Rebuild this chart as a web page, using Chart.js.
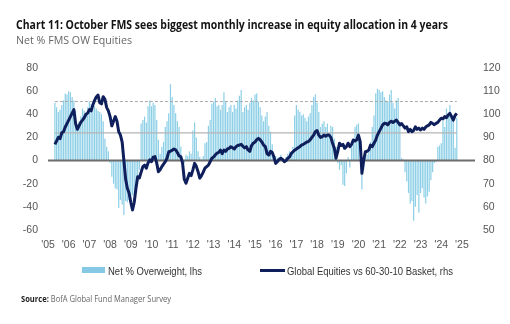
<!DOCTYPE html>
<html>
<head>
<meta charset="utf-8">
<script src="https://cdn.jsdelivr.net/npm/chart.js@4.4.1/dist/chart.umd.min.js"></script>
<style>
  html, body { margin: 0; padding: 0; background: #fff; }
  #wrap { position: relative; width: 510px; height: 324px; overflow: hidden; font-family: "Liberation Sans", Arial, sans-serif; }
  #c { position: absolute; left: 0; top: 0; }
  .t { position: absolute; white-space: nowrap; transform-origin: 0 50%; }
  .sw { position: absolute; }
</style>
</head>
<body>
<div id="wrap">
  <canvas id="c" width="510" height="324"></canvas>
  <div class="t" id="title" style="left:16px;top:16px;font-family:'Open Sans';font-weight:700;font-size:13px;line-height:16px;color:#141414">Chart 11: October FMS sees biggest monthly increase in equity allocation in 4 years</div>
  <div class="t" id="subtitle" style="left:16px;top:33px;font-family:'Open Sans';font-size:11.5px;line-height:14px;color:#666">Net % FMS OW Equities</div>
  <div class="sw" style="left:82px;top:267px;width:23px;height:6px;background:#86c9e4"></div>
  <div class="t" id="leg1" style="left:108px;top:264px;font-size:11px;line-height:14px;color:#333">Net % Overweight, lhs</div>
  <div class="sw" style="left:260px;top:269px;width:25px;height:3px;background:#0f1f5c"></div>
  <div class="t" id="leg2" style="left:287px;top:264px;font-size:11px;line-height:14px;color:#333">Global Equities vs 60-30-10 Basket, rhs</div>
  <div class="t" id="source" style="left:21px;top:293px;font-family:'Open Sans';font-size:8.5px;line-height:12px;color:#666"><b style="color:#222">Source:</b> BofA Global Fund Manager Survey</div>
</div>
<script>
// Monthly survey readings, May 2005 to October 2024
const firstYear = 2005;
const firstMonth = 5;

// Net % of fund managers overweight equities (left axis)
const netOverweight = [
  50, 46, 42, 44, 48, 52, 58, 57,                       // 2005 May-Dec
  60, 59, 55, 52, 43, 30, 34, 38, 45, 43, 41, 46,       // 2006
  51, 49, 45, 47, 45, 43, 42, 40, 34, 19, 12, 8,        // 2007
  -2, -14, -20, -24, -25, -41, -34, -38, -47, -35, -36, -34, // 2008
  -33, -30, -29, -20, -18, -8, 32, 35, 38, 33, 47, 52,  // 2009
  47, 50, 48, 35, 18, 6, 12, 16, 29, 34, 41, 66,        // 2010
  55, 48, 41, 34, 29, 12, 2, -2, 5, 4, 8, 6,            // 2011
  26, 33, 20, 8, 3, 1, 4, 15, 16, 30, 35, 49,           // 2012
  51, 54, 47, 48, 44, 48, 59, 51, 42, 46, 48, 42,       // 2013
  48, 45, 52, 56, 61, 42, 46, 48, 44, 50, 54, 52,       // 2014
  57, 58, 51, 46, 39, 34, 38, 42, 30, 25, 14, 5,        // 2015
  4, 2, 3, 5, 2, -1, 3, 6, 8, 5, 12, 39,                // 2016
  48, 44, 42, 39, 40, 37, 34, 38, 41, 48, 55, 57,       // 2017
  50, 42, 29, 32, 34, 29, 32, 24, 30, 29, 19, 12,       // 2018
  -2, -8, -4, -21, -22, -11, 3, -6, 12, 16, 29, 31,     // 2019
  32, 1, -25, -8, 3, 5, 12, 16, 29, 39, 58, 62,         // 2020
  61, 59, 60, 55, 52, 51, 57, 61, 50, 45, 52, 54,       // 2021
  32, 2, 1, -10, -18, -28, -37, -35, -52, -40, -30, -45, // 2022
  -28, -24, -32, -37, -31, -27, -17, -10, -2, -1, 12, 13, // 2023
  15, 34, 29, 45, 38, 48, 36, 39, 11, 37                // 2024 Jan-Oct
];

// Global equities relative to a 60-30-10 basket (right axis)
const equitiesVsBasket = [
  87, 88.5, 90, 89.5, 92, 92.5, 94.5, 96,                                  // 2005 May-Dec
  97.5, 99, 100.5, 102, 96, 93.5, 95, 96.5, 97.5, 98.5, 100, 100.5,        // 2006
  102, 101.5, 104, 106, 107.5, 108.3, 105, 104.5, 107.6, 106.5, 103, 101.5, // 2007
  99, 95, 97, 99, 97, 92.5, 91, 88, 80, 72, 68, 66,                        // 2008
  62, 58.7, 62, 68, 73, 72.5, 75, 77.4, 78, 76.7, 79, 80.3,                // 2009
  79.5, 81.5, 81.7, 79, 75.2, 76, 77.4, 78.5, 79.5, 81, 83.8, 84,          // 2010
  84.5, 85, 84.6, 83.5, 82, 81.7, 79, 72, 70.2, 72.4, 74.5, 73.5,          // 2011
  76, 78.8, 77.5, 75.2, 72.4, 73.5, 75, 76.7, 77.4, 78, 79.5, 81,          // 2012
  81.5, 82.5, 83.2, 83.5, 84.5, 83, 84.5, 84, 85, 85.3, 86, 85.5,          // 2013
  85, 86, 86.5, 86.7, 87, 86.2, 85.5, 86, 84.6, 84, 86.5, 87.5,            // 2014
  88, 89, 89.6, 89, 88, 86.7, 86, 83, 82.4, 84, 83.5, 81.5,                // 2015
  78.8, 79.5, 80.5, 81, 80.5, 79.5, 80, 81, 81.5, 83, 83.8, 84.5,          // 2016
  85, 85.5, 86, 86.7, 87, 87.5, 88, 88.2, 89, 90, 91, 92.5,                // 2017
  93, 91, 90, 90.3, 91, 90.5, 91, 91, 90, 87.5, 85.3, 81,                  // 2018
  84, 87.5, 86.5, 87, 85.3, 86, 87.5, 86, 87, 88.9, 88.5, 89,              // 2019
  91, 88.2, 74.5, 80, 83.8, 84, 84.6, 86.7, 86, 87.5, 88.9, 91,            // 2020
  92.5, 93.9, 95.4, 96.1, 96, 95.4, 96.5, 97, 96.5, 97, 97.5, 96.5,        // 2021
  95.4, 96, 95, 94, 94.6, 92.5, 93.5, 92.5, 93, 94.6, 93.5, 94,            // 2022
  93.2, 94, 93.5, 94.5, 95, 95.4, 96.5, 96, 95.5, 96.1, 96.5, 97.5,        // 2023
  98.3, 98, 99, 98.5, 99.7, 100.4, 99, 97.5, 99.5, 100.4                   // 2024 Jan-Oct
];

// Reference levels on the left axis
const avgLevel = 24;
const avgPlusStdev = 51;

// Axis ticks
const tickYears = [2005, 2006, 2007, 2008, 2009, 2010, 2011, 2012, 2013, 2014, 2015,
                   2016, 2017, 2018, 2019, 2020, 2021, 2022, 2023, 2024, 2025];
const xMin = 2005, xMax = 2025.63;

const monthX = i => firstYear + (firstMonth - 1 + i) / 12;
const lastX = monthX(netOverweight.length - 1);

const tickFont = { family: "'Liberation Sans', Arial, sans-serif", size: 10.5 };
const tickColor = '#555';

new Chart(document.getElementById('c'), {
  type: 'bar',
  data: {
    datasets: [
      {
        type: 'line',
        data: equitiesVsBasket.map((v, i) => ({ x: monthX(i), y: v })),
        yAxisID: 'y2',
        borderColor: '#0f1f5c',
        borderWidth: 3,
        pointRadius: 0,
        tension: 0,
        borderJoinStyle: 'round',
        order: 1
      },
      {
        type: 'line',
        data: [{ x: xMin, y: 0 }, { x: xMax, y: 0 }],
        yAxisID: 'y',
        borderColor: '#6c6c6c',
        borderWidth: 2,
        pointRadius: 0,
        order: 2
      },
      {
        type: 'line',
        data: [{ x: monthX(0), y: avgPlusStdev }, { x: lastX, y: avgPlusStdev }],
        yAxisID: 'y',
        borderColor: '#a8a8a8',
        borderWidth: 1,
        borderDash: [3, 2],
        pointRadius: 0,
        order: 3
      },
      {
        type: 'line',
        data: [{ x: monthX(0), y: avgLevel }, { x: lastX, y: avgLevel }],
        yAxisID: 'y',
        borderColor: '#b4b4b4',
        borderWidth: 1.2,
        pointRadius: 0,
        order: 3
      },
      {
        type: 'bar',
        data: netOverweight.map((v, i) => ({ x: monthX(i), y: v })),
        yAxisID: 'y',
        backgroundColor: '#8ccfe6',
        barPercentage: 0.7,
        categoryPercentage: 1,
        order: 5
      }
    ]
  },
  options: {
    responsive: false,
    animation: false,
    devicePixelRatio: 1,
    layout: { padding: { top: 68, bottom: 69, left: 0, right: 0 } },
    plugins: { legend: { display: false }, tooltip: { enabled: false } },
    scales: {
      x: {
        type: 'linear',
        min: xMin,
        max: xMax,
        offset: false,
        afterBuildTicks: s => { s.ticks = tickYears.map(v => ({ value: v })); },
        afterFit: s => { s.height = 25; },
        ticks: {
          autoSkip: false,
          maxRotation: 0,
          padding: 9,
          font: tickFont,
          color: tickColor,
          callback: v => "'" + String(v).slice(2)
        },
        grid: { display: false, drawTicks: false },
        border: { display: false }
      },
      y: {
        position: 'left',
        min: -60,
        max: 80,
        afterFit: s => { s.width = 48; },
        ticks: { stepSize: 20, padding: 10, font: tickFont, color: tickColor },
        grid: { display: false, drawTicks: false },
        border: { display: false }
      },
      y2: {
        position: 'right',
        min: 50,
        max: 120,
        afterFit: s => { s.width = 35; },
        ticks: { stepSize: 10, padding: 8, font: tickFont, color: tickColor },
        grid: { display: false, drawTicks: false },
        border: { display: false }
      }
    }
  }
});

// Fit the header, legend and source lines to their set widths
function fitWidth(id, w) {
  const el = document.getElementById(id);
  const cur = el.getBoundingClientRect().width;
  if (cur > 0) el.style.transform = 'scaleX(' + (w / cur) + ')';
}
fitWidth('title', 432);
fitWidth('subtitle', 116);
fitWidth('leg1', 94);
fitWidth('leg2', 166);
fitWidth('source', 150);
</script>
</body>
</html>
